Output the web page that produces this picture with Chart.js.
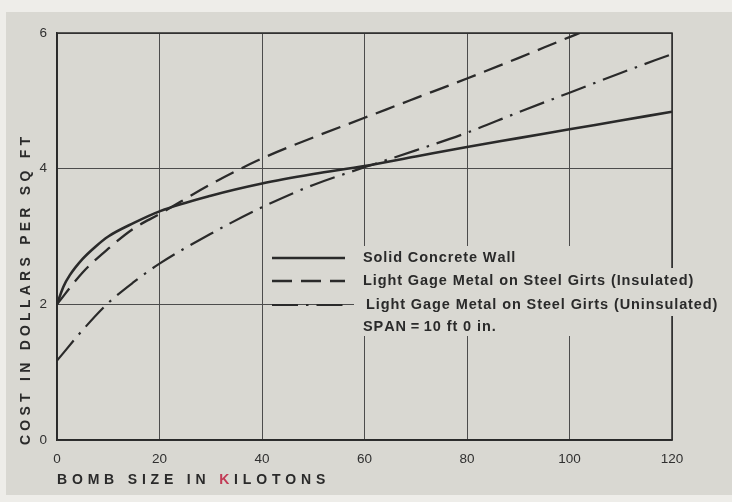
<!DOCTYPE html>
<html>
<head>
<meta charset="utf-8">
<script src="https://cdn.jsdelivr.net/npm/chart.js@4.4.1/dist/chart.umd.min.js"></script>
<style>
  html, body { margin: 0; padding: 0; background: #eeede9; }
  #wrap { width: 732px; height: 502px; }
</style>
</head>
<body>
<div id="wrap"><canvas id="chart" width="732" height="502"></canvas></div>
<script>
// Cost of wall construction versus bomb size (span 10 ft 0 in.)
const xTickLabels = ['0', '20', '40', '60', '80', '100', '120'];
const yTickLabels = ['0', '2', '4', '6'];

const solidKt    = [0, 1.25, 2.5, 5, 7.5, 10, 15, 20, 30, 40, 50, 60, 70, 80, 90, 100, 110, 120];
const solidCost  = [2.0, 2.26, 2.43, 2.67, 2.85, 3.0, 3.2, 3.37, 3.6, 3.78, 3.92, 4.04, 4.18, 4.32, 4.45, 4.58, 4.71, 4.84];

const insulKt    = [0, 5, 10, 15, 20, 30, 40, 50, 60, 70, 80, 90, 100, 102];
const insulCost  = [2.0, 2.47, 2.82, 3.12, 3.33, 3.77, 4.15, 4.46, 4.75, 5.04, 5.33, 5.63, 5.94, 6.0];

const uninsKt    = [0, 5, 10, 15, 20, 30, 40, 50, 60, 70, 80, 90, 100, 110, 120];
const uninsCost  = [1.17, 1.62, 2.02, 2.33, 2.6, 3.04, 3.43, 3.76, 4.02, 4.27, 4.53, 4.83, 5.12, 5.41, 5.69];

const seriesNames = [
  'Solid Concrete Wall',
  'Light Gage Metal on Steel Girts (Insulated)',
  'Light Gage Metal on Steel Girts (Uninsulated)'
];
const spanNote = 'SPAN\u2009=\u200910 ft 0 in.';
const xTitle = ['BOMB SIZE IN ', 'K', 'ILOTONS'];
const yTitle = 'COST IN DOLLARS PER SQ FT';

const PAPER = '#d9d8d2';
const INK = '#2a2a2a';
const FONT = '"Liberation Sans", Arial, sans-serif';

const toPoints = (xs, ys) => xs.map((x, i) => ({ x: x, y: ys[i] }));

// writes text one glyph at a time with extra tracking; returns the end x
function spacedText(ctx, text, x, y, extra) {
  for (const ch of text) {
    ctx.fillText(ch, x, y);
    x += ctx.measureText(ch).width + extra;
  }
  return x;
}

// paper sheet behind the plot
const paperPlugin = {
  id: 'paper',
  beforeDraw(chart) {
    const ctx = chart.ctx;
    ctx.save();
    ctx.fillStyle = '#eeede9';
    ctx.fillRect(0, 0, chart.width, chart.height);
    ctx.fillStyle = PAPER;
    ctx.fillRect(6, 12, chart.width - 6, 483);
    ctx.restore();
  }
};

// frame, axis titles and the in-plot key
const annotatePlugin = {
  id: 'annotate',
  afterDraw(chart) {
    const ctx = chart.ctx;
    const a = chart.chartArea;
    ctx.save();

    // heavier outer frame
    ctx.strokeStyle = INK;
    ctx.lineWidth = 1.5;
    ctx.strokeRect(a.left, a.top, a.right - a.left, a.bottom - a.top);

    // key area blanks out the grid behind its text
    ctx.fillStyle = PAPER;
    ctx.fillRect(354, 246, a.right - 354 - 1, 90);
    ctx.fillRect(a.right - 2, 268, 60, 48);

    // key rows
    const rowsY = [258, 281, 305];
    ctx.font = 'bold 14.5px ' + FONT;
    ctx.textBaseline = 'middle';
    ctx.textAlign = 'left';
    chart.data.datasets.forEach((ds, i) => {
      const y = rowsY[i];
      ctx.beginPath();
      ctx.setLineDash(ds.borderDash || []);
      ctx.lineDashOffset = 0;
      ctx.strokeStyle = INK;
      ctx.lineWidth = ds.borderWidth;
      ctx.moveTo(272, y);
      ctx.lineTo(345, y);
      ctx.stroke();
      ctx.setLineDash([]);
      ctx.fillStyle = INK;
      spacedText(ctx, ds.label, i === 2 ? 366 : 363, y, 0.9);
    });
    spacedText(ctx, spanNote, 363, 327, 0.9);

    // x-axis title, spread out to its printed length
    ctx.font = 'bold 14px ' + FONT;
    const full = xTitle.join('');
    const natural = ctx.measureText(full).width;
    const gap = (268 - natural) / (full.length - 1);
    let x = 57;
    const ty = 480;
    for (let part = 0; part < xTitle.length; part++) {
      ctx.fillStyle = part === 1 ? '#c23a55' : INK;
      x = spacedText(ctx, xTitle[part], x, ty, gap);
    }

    // y-axis title, rotated
    ctx.translate(26, 291);
    ctx.rotate(-Math.PI / 2);
    ctx.fillStyle = INK;
    const yNat = ctx.measureText(yTitle).width;
    const yGap = (308 - yNat) / (yTitle.length - 1);
    spacedText(ctx, yTitle, -154, 0, yGap);
    ctx.restore();
  }
};

new Chart(document.getElementById('chart'), {
  type: 'line',
  data: {
    datasets: [
      {
        label: seriesNames[0],
        data: toPoints(solidKt, solidCost),
        borderColor: INK,
        borderWidth: 2.6,
        borderDash: [],
        pointRadius: 0,
        cubicInterpolationMode: 'monotone',
        fill: false
      },
      {
        label: seriesNames[1],
        data: toPoints(insulKt, insulCost),
        borderColor: INK,
        borderWidth: 2.3,
        borderDash: [20, 9],
        pointRadius: 0,
        cubicInterpolationMode: 'monotone',
        fill: false
      },
      {
        label: seriesNames[2],
        data: toPoints(uninsKt, uninsCost),
        borderColor: INK,
        borderWidth: 2.2,
        borderDash: [26, 8, 2.5, 8],
        pointRadius: 0,
        cubicInterpolationMode: 'monotone',
        fill: false
      }
    ]
  },
  options: {
    responsive: false,
    animation: false,
    layout: { padding: { left: 0, top: 33, right: 60, bottom: 0 } },
    plugins: {
      legend: { display: false },
      title: { display: false },
      tooltip: { enabled: false }
    },
    scales: {
      x: {
        type: 'linear',
        min: 0,
        max: 120,
        afterFit(scale) { scale.height = 62; },
        afterBuildTicks(scale) {
          scale.ticks = xTickLabels.map(t => ({ value: Number(t) }));
        },
        ticks: {
          color: '#303030',
          font: { family: FONT, size: 13.5 },
          padding: 11,
          maxRotation: 0,
          callback: (v) => String(v)
        },
        grid: { color: '#4c4c4c', lineWidth: 1, drawTicks: false },
        border: { display: true, color: INK, width: 1.5 }
      },
      y: {
        type: 'linear',
        min: 0,
        max: 6,
        afterFit(scale) { scale.width = 57; },
        afterBuildTicks(scale) {
          scale.ticks = yTickLabels.map(t => ({ value: Number(t) }));
        },
        ticks: {
          color: '#303030',
          font: { family: FONT, size: 13.5 },
          padding: 10,
          callback: (v) => String(v)
        },
        grid: { color: '#4c4c4c', lineWidth: 1, drawTicks: false },
        border: { display: true, color: INK, width: 1.5 }
      }
    }
  },
  plugins: [paperPlugin, annotatePlugin]
});
</script>
</body>
</html>
